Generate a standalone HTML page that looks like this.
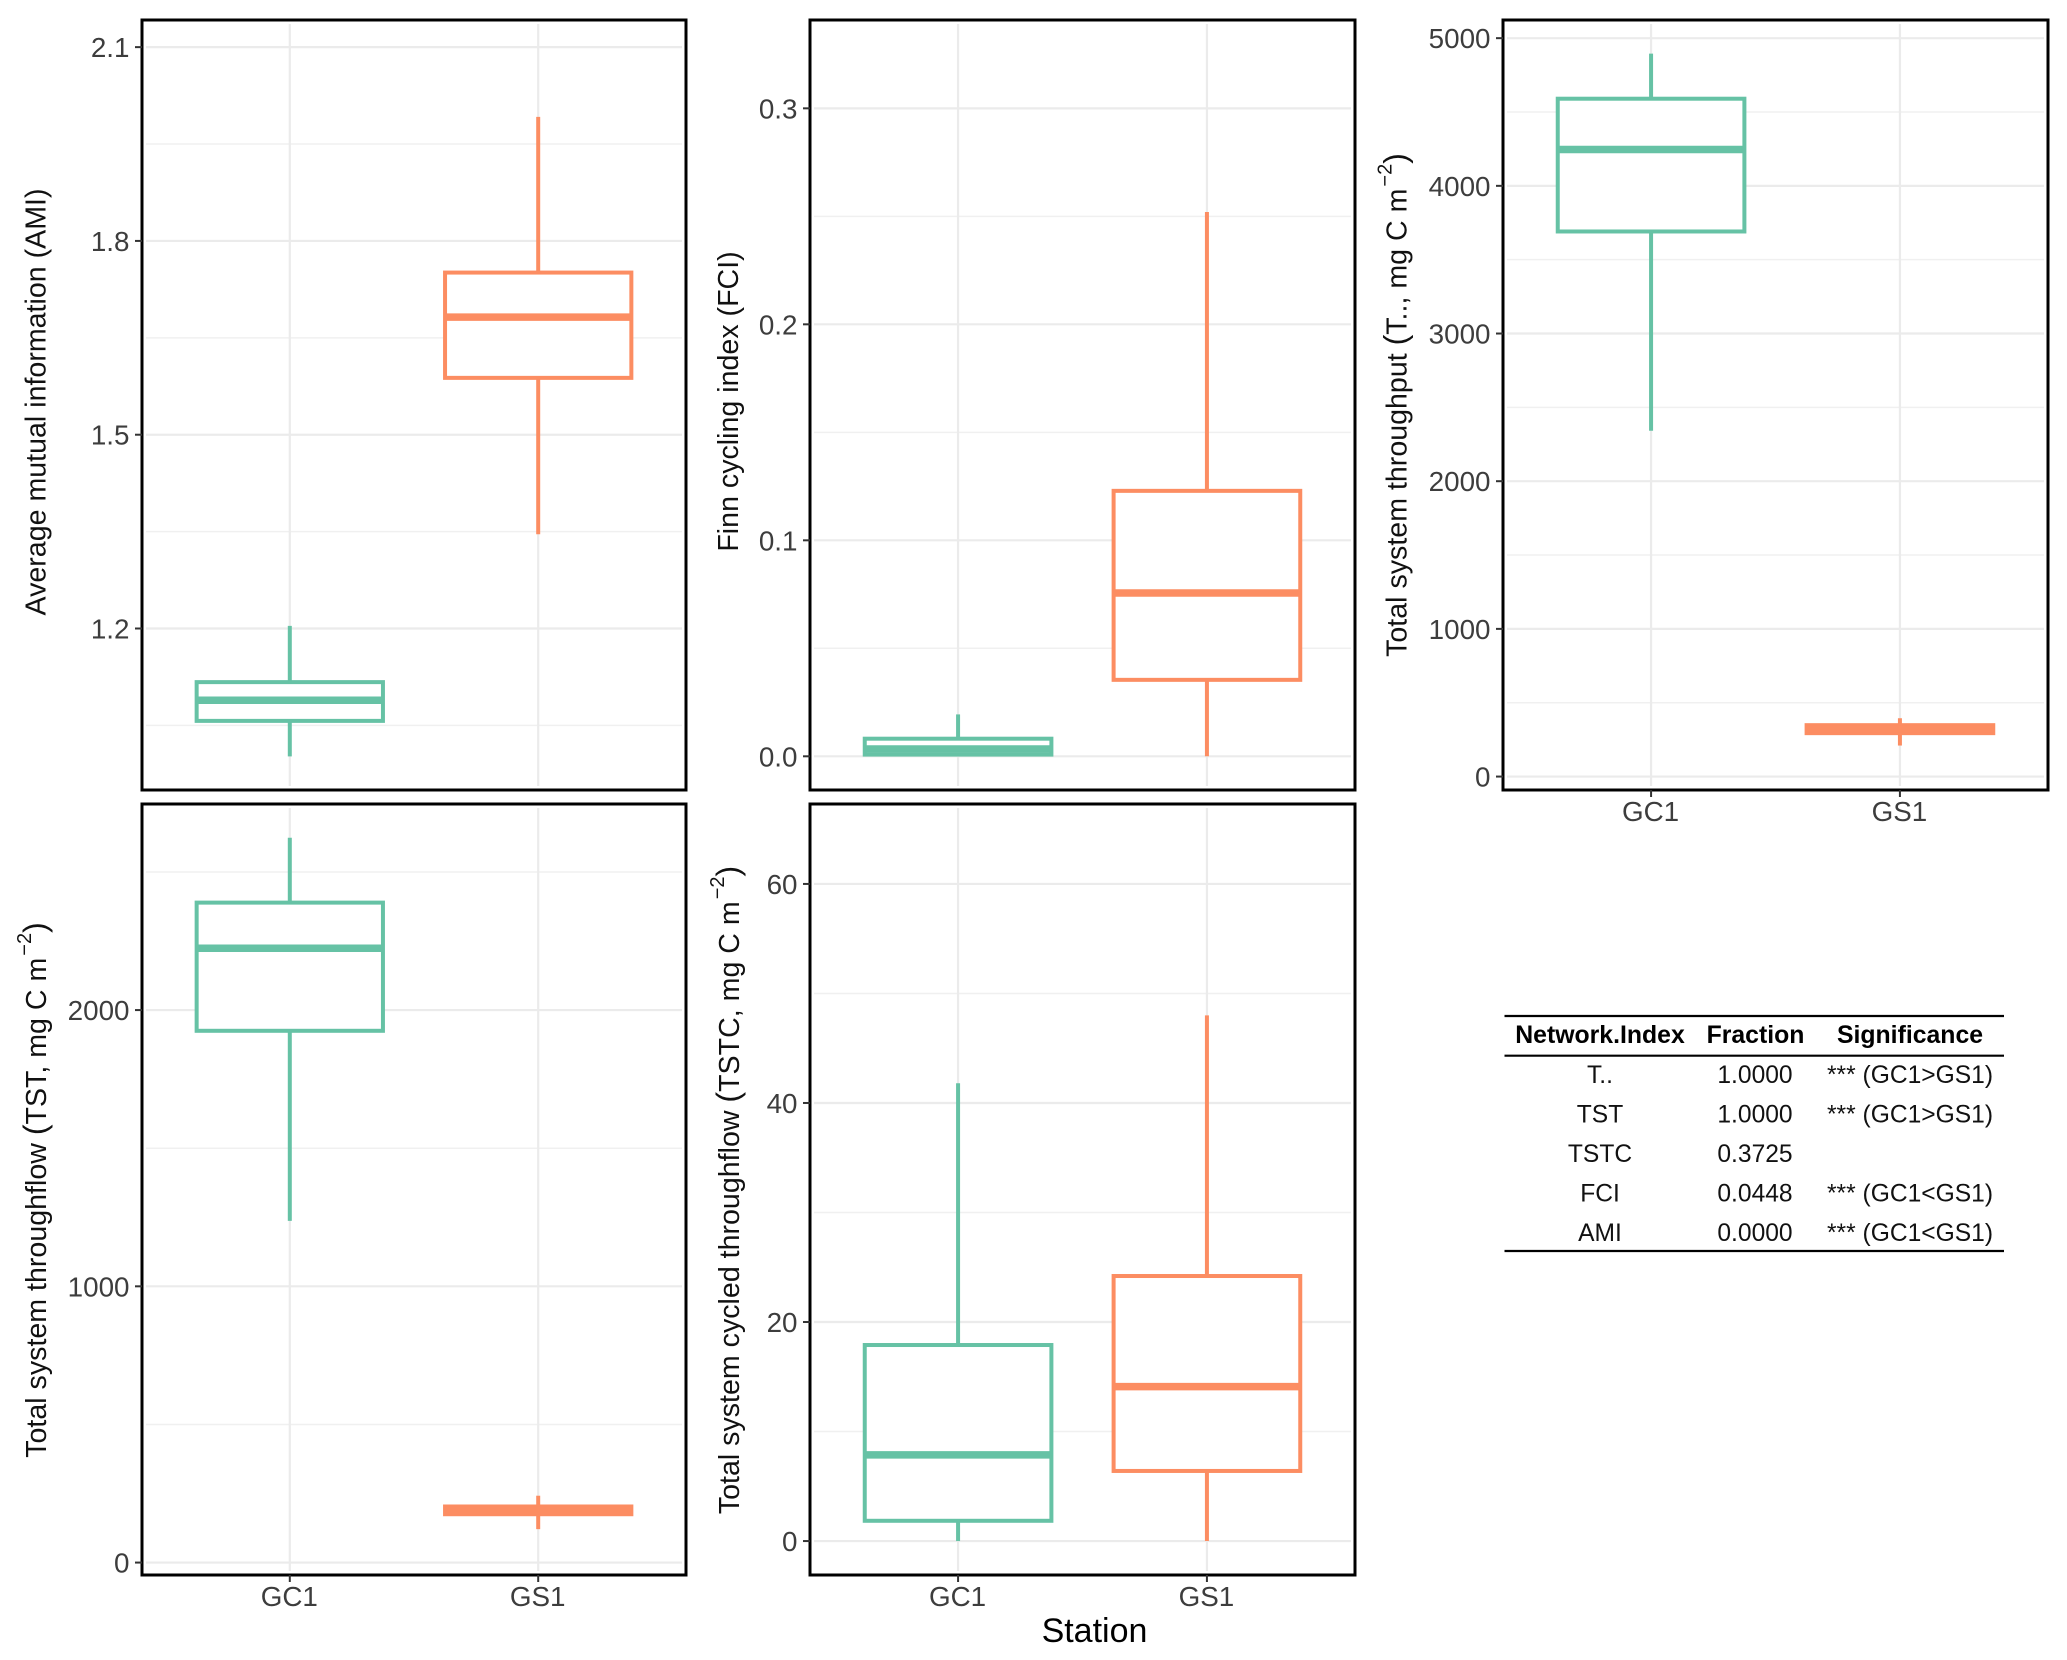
<!DOCTYPE html>
<html lang="en">
<head>
<meta charset="utf-8">
<title>Network index boxplots by station</title>
<style>
html,body{margin:0;padding:0;background:#fff;}
body{width:2067px;height:1660px;overflow:hidden;}
svg{display:block;font-family:"Liberation Sans",Arial,sans-serif;}
.axis-title{font-size:28.6px;fill:#111;text-anchor:middle;}
.tbl{font-size:24.6px;fill:#111;text-anchor:middle;}
.tbl-h{font-size:24.8px;font-weight:bold;fill:#000;text-anchor:middle;}
</style>
</head>
<body>
<svg id="figure" xmlns="http://www.w3.org/2000/svg" width="2067" height="1660" viewBox="0 0 2067 1660">
  <rect x="0" y="0" width="2067" height="1660" fill="#fff"/>
  <g id="panel-ami"></g>
  <g id="panel-fci"></g>
  <g id="panel-t"></g>
  <g id="panel-tst"></g>
  <g id="panel-tstc"></g>

  <text class="axis-title" transform="translate(45.5,402) rotate(-90)">Average mutual information (AMI)</text>
  <text class="axis-title" transform="translate(738,401.5) rotate(-90)">Finn cycling index (FCI)</text>
  <text class="axis-title" transform="translate(1406.7,405) rotate(-90)">Total system throughput <tspan font-size="32">(</tspan>T.., mg C m<tspan font-size="20" dy="-15" dx="2">−2</tspan><tspan font-size="32" dy="15">)</tspan></text>
  <text class="axis-title" transform="translate(46,1190) rotate(-90)">Total system throughflow <tspan font-size="32">(</tspan>TST, mg C m<tspan font-size="20" dy="-15" dx="2">−2</tspan><tspan font-size="32" dy="15">)</tspan></text>
  <text class="axis-title" transform="translate(739,1190) rotate(-90)">Total system cycled throughflow <tspan font-size="32">(</tspan>TSTC, mg C m<tspan font-size="20" dy="-15" dx="2">−2</tspan><tspan font-size="32" dy="15">)</tspan></text>
  <text x="1094.5" y="1642" font-size="34" fill="#000" text-anchor="middle">Station</text>

  <g>
    <line x1="1504.5" x2="2004" y1="1016" y2="1016" stroke="#000" stroke-width="2.2"/>
    <line x1="1504.5" x2="2004" y1="1055.7" y2="1055.7" stroke="#000" stroke-width="2.2"/>
    <line x1="1504.5" x2="2004" y1="1251" y2="1251" stroke="#000" stroke-width="2.2"/>
    <text class="tbl-h" x="1600" y="1043">Network.Index</text>
    <text class="tbl-h" x="1755.5" y="1043">Fraction</text>
    <text class="tbl-h" x="1910" y="1043">Significance</text>
    <text class="tbl" x="1600" y="1083">T..</text>
    <text class="tbl" x="1755" y="1083">1.0000</text>
    <text class="tbl" x="1910" y="1083">*** (GC1&gt;GS1)</text>
    <text class="tbl" x="1600" y="1122.5">TST</text>
    <text class="tbl" x="1755" y="1122.5">1.0000</text>
    <text class="tbl" x="1910" y="1122.5">*** (GC1&gt;GS1)</text>
    <text class="tbl" x="1600" y="1162">TSTC</text>
    <text class="tbl" x="1755" y="1162">0.3725</text>
    <text class="tbl" x="1600" y="1201.5">FCI</text>
    <text class="tbl" x="1755" y="1201.5">0.0448</text>
    <text class="tbl" x="1910" y="1201.5">*** (GC1&lt;GS1)</text>
    <text class="tbl" x="1600" y="1241">AMI</text>
    <text class="tbl" x="1755" y="1241">0.0000</text>
    <text class="tbl" x="1910" y="1241">*** (GC1&lt;GS1)</text>
  </g>
</svg>
<script>
// Categories and colours
const categories = ['GC1', 'GS1'];
const seriesColors = ['#66c2a5', '#fc8d62'];

// Values are [whisker low, q1, median, q3, whisker high], station order as categories
const amiGC1 = [1.002, 1.057, 1.089, 1.117, 1.204];
const amiGS1 = [1.346, 1.588, 1.682, 1.751, 1.992];
const amiTicks = [1.2, 1.5, 1.8, 2.1];
const amiMinor = [1.05, 1.35, 1.65, 1.95];
const amiDomain = [0.950, 2.142];
const amiLabels = ['1.2', '1.5', '1.8', '2.1'];

const fciGC1 = [0, 0.0008, 0.0034, 0.00815, 0.0194];
const fciGS1 = [0, 0.0354, 0.0756, 0.1229, 0.252];
const fciTicks = [0, 0.1, 0.2, 0.3];
const fciMinor = [0.05, 0.15, 0.25];
const fciDomain = [-0.0156, 0.3409];
const fciLabels = ['0.0', '0.1', '0.2', '0.3'];

const tGC1 = [2342, 3691, 4246, 4590, 4895];
const tGS1 = [210, 294, 323, 348, 395];
const tTicks = [0, 1000, 2000, 3000, 4000, 5000];
const tMinor = [500, 1500, 2500, 3500, 4500];
const tDomain = [-91, 5123];
const tLabels = ['0', '1000', '2000', '3000', '4000', '5000'];

const tstGC1 = [1237, 1925, 2224, 2389, 2624];
const tstGS1 = [121, 175, 189, 203, 242];
const tstTicks = [0, 1000, 2000];
const tstMinor = [500, 1500, 2500];
const tstDomain = [-45, 2746];
const tstLabels = ['0', '1000', '2000'];

const tstcGC1 = [0, 1.85, 7.87, 17.9, 41.8];
const tstcGS1 = [0, 6.4, 14.1, 24.2, 48.0];
const tstcTicks = [0, 20, 40, 60];
const tstcMinor = [10, 30, 50];
const tstcDomain = [-3.1, 67.3];
const tstcLabels = ['0', '20', '40', '60'];

const NS = 'http://www.w3.org/2000/svg';
function make(tag, attrs, parent) {
  const el = document.createElementNS(NS, tag);
  for (const k in attrs) el.setAttribute(k, attrs[k]);
  parent.appendChild(el);
  return el;
}

function drawPanel(id, box, series, ticks, minor, labels, domain, showX) {
  const g = document.getElementById(id);
  const yScale = v => box.bottom - (v - domain[0]) / (domain[1] - domain[0]) * (box.bottom - box.top);
  const unit = (box.right - box.left) / 2.19;
  const xScale = i => box.left + (0.595 + i) * unit;
  const inset = 4;
  const boxHalf = 0.375 * unit;

  minor.forEach(v => {
    const el = make('line', {x1: box.left + inset, x2: box.right - inset, y1: yScale(v), y2: yScale(v), stroke: '#f0f0f0', 'stroke-width': 1.5}, g);
    
    
  });
  ticks.forEach(v => {
    const el = make('line', {x1: box.left + inset, x2: box.right - inset, y1: yScale(v), y2: yScale(v), stroke: '#ebebeb', 'stroke-width': 2.2}, g);
    
    
  });
  categories.forEach((c, i) => {
    const el = make('line', {x1: xScale(i), x2: xScale(i), y1: box.top + inset, y2: box.bottom - inset, stroke: '#ebebeb', 'stroke-width': 2.2}, g);
    
    
  });

  series.forEach((s, i) => {
    const color = seriesColors[i];
    const cx = xScale(i);
    const whiskerHigh = make('line', {x1: cx, x2: cx, y1: yScale(s[4]), y2: yScale(s[3]), stroke: color, 'stroke-width': 4}, g);
    
    
    const whiskerLow = make('line', {x1: cx, x2: cx, y1: yScale(s[1]), y2: yScale(s[0]), stroke: color, 'stroke-width': 4}, g);
    
    
    const rect = make('rect', {x: cx - boxHalf, width: 2 * boxHalf, y: yScale(s[3]), height: yScale(s[1]) - yScale(s[3]), fill: '#fff', stroke: color, 'stroke-width': 4}, g);
    
    
    const median = make('line', {x1: cx - boxHalf, x2: cx + boxHalf, y1: yScale(s[2]), y2: yScale(s[2]), stroke: color, 'stroke-width': 7.5}, g);
    
    
  });

  const frame = make('rect', {x: box.left, y: box.top, width: box.right - box.left, height: box.bottom - box.top, fill: 'none', stroke: '#000', 'stroke-width': 3}, g);
  
  

  ticks.forEach((v, i) => {
    const tick = make('line', {x1: box.left - 7, x2: box.left, y1: yScale(v), y2: yScale(v), stroke: '#333', 'stroke-width': 2}, g);
    
    
    const label = make('text', {x: box.left - 12.5, y: yScale(v) + 10, 'font-size': 27.8, fill: '#3d3d3d', 'text-anchor': 'end'}, g);
    label.textContent = labels[i];
    
    
  });

  if (showX) {
    categories.forEach((c, i) => {
      const tick = make('line', {x1: xScale(i), x2: xScale(i), y1: box.bottom, y2: box.bottom + 7, stroke: '#333', 'stroke-width': 2}, g);
      
      
      const label = make('text', {x: xScale(i) - 0.5, y: box.bottom + 31, 'font-size': 27.8, fill: '#3d3d3d', 'text-anchor': 'middle'}, g);
      label.textContent = c;
      
      
    });
  }
}

drawPanel('panel-ami', {left: 142, right: 686, top: 20, bottom: 790}, [amiGC1, amiGS1], amiTicks, amiMinor, amiLabels, amiDomain, false);
drawPanel('panel-fci', {left: 810, right: 1355, top: 20, bottom: 790}, [fciGC1, fciGS1], fciTicks, fciMinor, fciLabels, fciDomain, false);
drawPanel('panel-t', {left: 1503, right: 2048, top: 20, bottom: 790}, [tGC1, tGS1], tTicks, tMinor, tLabels, tDomain, true);
drawPanel('panel-tst', {left: 142, right: 686, top: 804, bottom: 1575}, [tstGC1, tstGS1], tstTicks, tstMinor, tstLabels, tstDomain, true);
drawPanel('panel-tstc', {left: 810, right: 1355, top: 804, bottom: 1575}, [tstcGC1, tstcGS1], tstcTicks, tstcMinor, tstcLabels, tstcDomain, true);
</script>
</body>
</html>
